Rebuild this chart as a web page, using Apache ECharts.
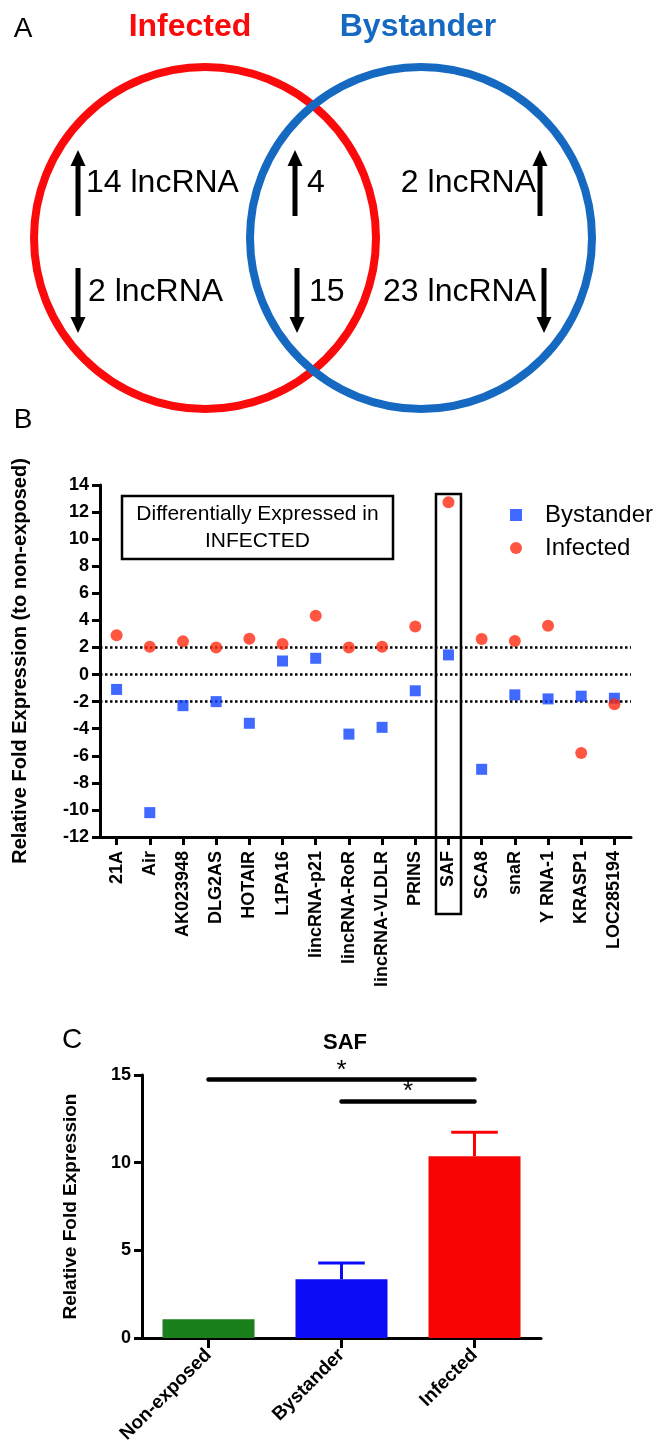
<!DOCTYPE html>
<html>
<head>
<meta charset="utf-8">
<script src="https://cdn.jsdelivr.net/npm/echarts@6/dist/echarts.min.js"></script>
<style>
html,body{margin:0;padding:0;background:#fff;}
#main{width:667px;height:1453px;}
</style>
</head>
<body>
<div id="main"></div>
<script>
// ---------- Panel A: Venn counts ----------
const vennSets = ['Infected', 'Bystander'];
const vennUpCounts = ['14 lncRNA', '4', '2 lncRNA'];     // infected only, shared, bystander only
const vennDownCounts = ['2 lncRNA', '15', '23 lncRNA'];

// ---------- Panel B: relative fold expression ----------
const categoriesB = ['21A', 'Air', 'AK023948', 'DLG2AS', 'HOTAIR', 'L1PA16', 'lincRNA-p21', 'lincRNA-RoR',
  'lincRNA-VLDLR', 'PRINS', 'SAF', 'SCA8', 'snaR', 'Y RNA-1', 'KRASP1', 'LOC285194'];
const bystanderFold = [-1.1, -10.2, -2.3, -2.0, -3.6, 1.0, 1.2, -4.4, -3.9, -1.2, 1.45, -7.0, -1.5, -1.8, -1.6, -1.75];
const infectedFold = [2.9, 2.05, 2.45, 2.0, 2.65, 2.25, 4.35, 2.0, 2.05, 3.55, 12.72, 2.62, 2.47, 3.6, -5.8, -2.2];
const thresholdLines = [2, 0, -2];
const yTicksB = { min: -12, max: 14, interval: 2 };
const highlightCategory = 'SAF';
const annotationLines = ['Differentially Expressed in', 'INFECTED'];

// ---------- Panel C: SAF ----------
const groupsC = ['Non-exposed', 'Bystander', 'Infected'];
const safMean = [1.07, 3.35, 10.37];
const safSEM = [0, 0.93, 1.37];
const sigPairs = [['Non-exposed', 'Infected', 14.75, '*'], ['Bystander', 'Infected', 13.5, '*']];
const yTicksC = { min: 0, max: 15, interval: 5 };

const FONT = '"Liberation Sans", Arial, Helvetica, sans-serif';
const RED = '#fa0a0a', BLUE = '#1569c1';
const BLUE_PT = '#1043ff', RED_PT = '#ff2a12';
const barColors = ['#1b7f1b', '#0b0bf5', '#f90404'];

const chart = echarts.init(document.getElementById('main'), null, { renderer: 'canvas' });

function arrow(x, y1, y2, up) {
  const head = 16, hw = 7.5;
  const tip = up ? y1 : y2;
  const pts = up ? [[x - hw, tip + head], [x, tip], [x + hw, tip + head]]
                 : [[x - hw, tip - head], [x, tip], [x + hw, tip - head]];
  return {
    type: 'group', children: [
      { type: 'line', shape: { x1: x, y1: up ? y1 + head - 2 : y1, x2: x, y2: up ? y2 : y2 - head + 2 },
        style: { stroke: '#000', lineWidth: 5 } },
      { type: 'polygon', shape: { points: pts }, style: { fill: '#000' } }
    ]
  };
}
function txt(x, y, t, opts) {
  return { type: 'text', x: x, y: y, style: Object.assign({ text: t, fontFamily: FONT, fontSize: 32, fill: '#000',
    textAlign: 'left', textVerticalAlign: 'middle' }, opts || {}) };
}

const graphics = [
  txt(23, 29, 'A', { fontSize: 28, textAlign: 'center' }),
  txt(190, 27, vennSets[0], { fontWeight: 'bold', fill: RED, textAlign: 'center' }),
  txt(418, 27, vennSets[1], { fontWeight: 'bold', fill: BLUE, textAlign: 'center' }),
  { type: 'circle', shape: { cx: 205, cy: 238, r: 171 }, style: { fill: 'none', stroke: RED, lineWidth: 8 } },
  { type: 'circle', shape: { cx: 421, cy: 238, r: 171 }, style: { fill: 'none', stroke: BLUE, lineWidth: 8 } },
  arrow(78, 150, 216, true), arrow(295, 150, 216, true), arrow(540, 150, 216, true),
  arrow(78, 268, 333, false), arrow(297, 268, 333, false), arrow(544, 268, 333, false),
  txt(86, 183, vennUpCounts[0]), txt(307, 183, vennUpCounts[1]), txt(536, 183, vennUpCounts[2], { textAlign: 'right' }),
  txt(88, 292, vennDownCounts[0]), txt(309, 292, vennDownCounts[1]), txt(536, 292, vennDownCounts[2], { textAlign: 'right' }),
  txt(23, 420, 'B', { fontSize: 28, textAlign: 'center' }),
  txt(72, 1040, 'C', { fontSize: 28, textAlign: 'center' }),
  // annotation box panel B
  { type: 'rect', shape: { x: 122, y: 496, width: 271, height: 63 }, style: { fill: 'none', stroke: '#000', lineWidth: 2.5 } },
  txt(257.5, 514, annotationLines[0], { fontSize: 21, textAlign: 'center' }),
  txt(257.5, 541, annotationLines[1], { fontSize: 21, textAlign: 'center' })
];

const axisLineStyle = { show: true, onZero: false, lineStyle: { color: '#000', width: 3 } };

const option = {
  animation: false,
  backgroundColor: '#fff',
  textStyle: { fontFamily: FONT },
  title: [{
    text: 'SAF', left: 340, top: 1027, textAlign: 'center',
    textStyle: { fontFamily: FONT, fontSize: 22, fontWeight: 'bold', color: '#000' }
  }],
  legend: {
    data: ['Bystander', 'Infected'], orient: 'vertical', left: 505, top: 497,
    itemWidth: 12, itemHeight: 12, itemGap: 7,
    textStyle: { fontFamily: FONT, fontSize: 24, color: '#000', padding: [0, 0, 0, 18], lineHeight: 26 }
  },
  grid: [
    { left: 100, top: 485, width: 531, height: 352 },
    { left: 142, top: 1075, width: 399, height: 263 }
  ],
  xAxis: [
    {
      type: 'category', gridIndex: 0, data: categoriesB, boundaryGap: true,
      axisLine: axisLineStyle, splitLine: { show: false },
      axisTick: { show: true, alignWithLabel: true, length: 8, lineStyle: { color: '#000', width: 3 } },
      axisLabel: { rotate: 90, interval: 0, margin: 14, color: '#000', fontFamily: FONT, fontSize: 18, fontWeight: 'bold' }
    },
    {
      type: 'category', gridIndex: 1, data: groupsC, boundaryGap: true,
      axisLine: axisLineStyle, splitLine: { show: false },
      axisTick: { show: true, alignWithLabel: true, length: 10, lineStyle: { color: '#000', width: 3 } },
      axisLabel: { rotate: 45, interval: 0, margin: 14, color: '#000', fontFamily: FONT, fontSize: 19, fontWeight: 'bold' }
    }
  ],
  yAxis: [
    {
      type: 'value', gridIndex: 0, min: yTicksB.min, max: yTicksB.max, interval: yTicksB.interval,
      axisLine: axisLineStyle, splitLine: { show: false },
      axisTick: { show: true, length: 8, lineStyle: { color: '#000', width: 3 } },
      name: 'Relative Fold Expression (to non-exposed)', nameLocation: 'middle', nameGap: 70,
      nameTextStyle: { fontFamily: FONT, fontSize: 20, fontWeight: 'bold', color: '#000' },
      axisLabel: { margin: 11, color: '#000', fontFamily: FONT, fontSize: 18, fontWeight: 'bold' }
    },
    {
      type: 'value', gridIndex: 1, min: yTicksC.min, max: yTicksC.max, interval: yTicksC.interval,
      axisLine: axisLineStyle, splitLine: { show: false },
      axisTick: { show: true, length: 8, lineStyle: { color: '#000', width: 3 } },
      name: 'Relative Fold Expression', nameLocation: 'middle', nameGap: 62,
      nameTextStyle: { fontFamily: FONT, fontSize: 19, fontWeight: 'bold', color: '#000' },
      axisLabel: { margin: 11, color: '#000', fontFamily: FONT, fontSize: 18, fontWeight: 'bold' }
    }
  ],
  series: [
    {
      name: 'Bystander', type: 'scatter', xAxisIndex: 0, yAxisIndex: 0,
      symbol: 'rect', symbolSize: 11, itemStyle: { color: BLUE_PT }, z: 5,
      data: bystanderFold,
      markLine: {
        silent: true, symbol: ['none', 'none'], label: { show: false }, z: 1,
        lineStyle: { color: '#000', type: [2.5, 2.5], width: 2.5 },
        data: thresholdLines.map(v => ({ yAxis: v }))
      }
    },
    {
      name: 'Infected', type: 'scatter', xAxisIndex: 0, yAxisIndex: 0,
      symbol: 'circle', symbolSize: 12, itemStyle: { color: RED_PT }, z: 6,
      data: infectedFold
    },
    {
      name: 'SAF', type: 'bar', xAxisIndex: 1, yAxisIndex: 1, barWidth: 92,
      data: safMean.map((v, i) => ({ value: v, itemStyle: { color: barColors[i] } })),
      markLine: {
        silent: true, symbol: ['none', 'none'],
        lineStyle: { color: '#000', type: 'solid', width: 4.5, cap: 'round' },
        label: { show: true, position: 'middle', formatter: p => p.data.star || '*', color: '#000',
          fontFamily: FONT, fontSize: 26, distance: -4 },
        data: sigPairs.map(p => [
          { coord: [p[0], p[2]], star: p[3] },
          { coord: [p[1], p[2]] }
        ])
      }
    },
    {
      name: 'SEM', type: 'custom', xAxisIndex: 1, yAxisIndex: 1, z: 3,
      data: safMean.map((v, i) => [i, v, safSEM[i]]),
      renderItem: function (params, api) {
        const i = api.value(0), m = api.value(1), e = api.value(2);
        if (!e) return null;
        const top = api.coord([i, m + e]);
        const base = api.coord([i, m]);
        const cw = api.size([1, 0])[0] * 0.35;
        const c = barColors[i];
        return {
          type: 'group', children: [
            { type: 'line', shape: { x1: top[0], y1: top[1], x2: base[0], y2: base[1] }, style: { stroke: c, lineWidth: 3 } },
            { type: 'line', shape: { x1: top[0] - cw / 2, y1: top[1], x2: top[0] + cw / 2, y2: top[1] }, style: { stroke: c, lineWidth: 3 } }
          ]
        };
      }
    }
  ],
  graphic: graphics
};
chart.setOption(option);

// highlight box around SAF column (centred on the category through the axis scale)
const cx = chart.convertToPixel({ xAxisIndex: 0 }, highlightCategory);
const yTop = chart.convertToPixel({ yAxisIndex: 0 }, yTicksB.max) + 9;
graphics.push({ type: 'rect', shape: { x: cx - 12.5, y: yTop, width: 25, height: 914 - yTop },
  style: { fill: 'none', stroke: '#000', lineWidth: 2.5 }, z: 10 });
chart.setOption({ graphic: graphics });
</script>
</body>
</html>
